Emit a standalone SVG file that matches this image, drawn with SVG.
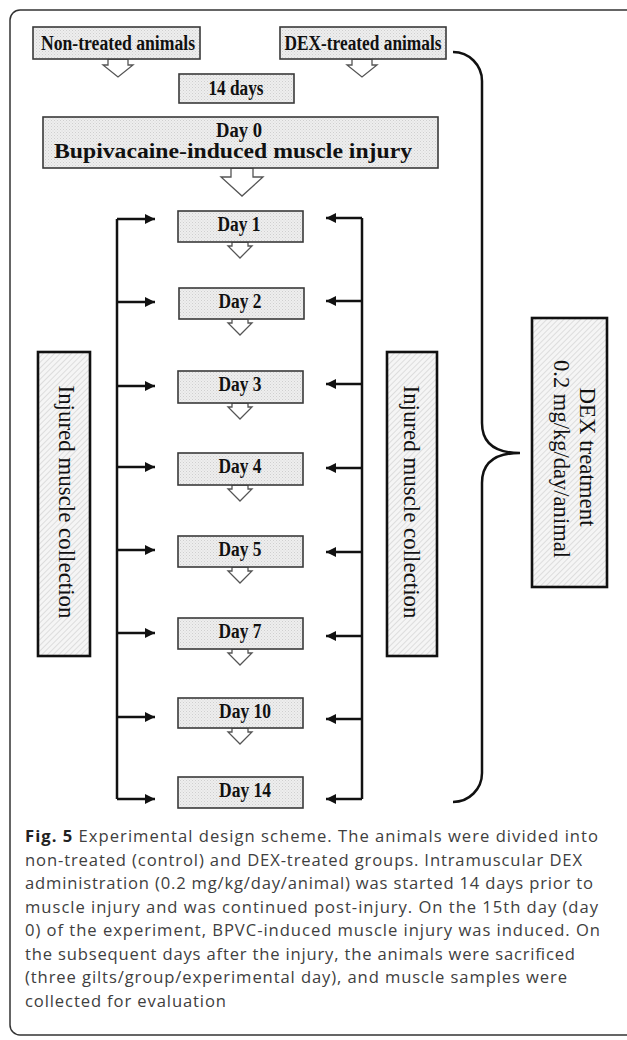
<svg xmlns="http://www.w3.org/2000/svg" width="627" height="1040" viewBox="0 0 627 1040">
<defs>
<style>
.box{fill:url(#dots);stroke:#3a3a3a;stroke-width:1.6}
.vbox{fill:url(#hatch);stroke:#111;stroke-width:2.6}
.lbl{font-family:"Liberation Serif","Times New Roman",serif;font-weight:bold;font-size:20px;fill:#111;text-anchor:middle}
.vl{font-family:"Liberation Serif","Times New Roman",serif;font-size:23px;fill:#111;text-anchor:middle}
.harrow{fill:#fff;stroke:#555;stroke-width:1.3;stroke-linejoin:miter}
.ln{fill:none;stroke:#111;stroke-width:2.5}
.cap{font-family:"Open Sans","Noto Sans",sans-serif;font-size:16.6px;fill:#404040}
</style>
<pattern id="dots" width="3" height="3" patternUnits="userSpaceOnUse">
<rect width="3" height="3" fill="#eeeeee"/>
<rect width="1" height="1" fill="#cfcfcf"/>
<rect x="1.5" y="1.5" width="1" height="1" fill="#d9d9d9"/>
</pattern>
<pattern id="hatch" width="4" height="4" patternUnits="userSpaceOnUse" patternTransform="rotate(45)">
<rect width="4" height="4" fill="#f5f5f5"/>
<line x1="0" y1="0" x2="0" y2="4" stroke="#cdcdcd" stroke-width="1.2"/>
</pattern>
<marker id="ah" markerUnits="userSpaceOnUse" markerWidth="10" markerHeight="10" refX="10" refY="5" orient="auto">
<path d="M0,0 L10,5 L0,10 z" fill="#111"/>
</marker>
</defs>
<rect width="627" height="1040" fill="#fff"/>
<rect x="10" y="10" width="628" height="1025" rx="10" fill="none" stroke="#333" stroke-width="1.5"/>

<g id="connectors">
<path class="ln" d="M117,219 V799"/>
<path class="ln" d="M117,219 H155" marker-end="url(#ah)"/>
<path class="ln" d="M117,302 H155" marker-end="url(#ah)"/>
<path class="ln" d="M117,386 H155" marker-end="url(#ah)"/>
<path class="ln" d="M117,467 H155" marker-end="url(#ah)"/>
<path class="ln" d="M117,550 H155" marker-end="url(#ah)"/>
<path class="ln" d="M117,633 H155" marker-end="url(#ah)"/>
<path class="ln" d="M117,717 H155" marker-end="url(#ah)"/>
<path class="ln" d="M117,799 H155" marker-end="url(#ah)"/>
<path class="ln" d="M362,218 V799"/>
<path class="ln" d="M362,218 H326" marker-end="url(#ah)"/>
<path class="ln" d="M362,301 H326" marker-end="url(#ah)"/>
<path class="ln" d="M362,384 H326" marker-end="url(#ah)"/>
<path class="ln" d="M362,468 H326" marker-end="url(#ah)"/>
<path class="ln" d="M362,552 H326" marker-end="url(#ah)"/>
<path class="ln" d="M362,636 H326" marker-end="url(#ah)"/>
<path class="ln" d="M362,719 H326" marker-end="url(#ah)"/>
<path class="ln" d="M362,799 H326" marker-end="url(#ah)"/>
<path class="ln" d="M453,52 A29,29 0 0 1 482,81 V423 C482,443 494,453 520,453 C494,453 482,463 482,483 V773 A29,29 0 0 1 453,802"/>
<polygon class="harrow" points="108,59 128,59 128,65 133,65 118,77 103,65 108,65"/>
<polygon class="harrow" points="352,59 372,59 372,65 377,65 362,77 347,65 352,65"/>
<polygon class="harrow" points="231,168 253,168 253,177 263,177 242,196 221,177 231,177"/>
<polygon class="harrow" points="232,242 248,242 248,246 252,246 240,258 228,246 232,246"/>
<polygon class="harrow" points="232,319 248,319 248,323 252,323 240,335 228,323 232,323"/>
<polygon class="harrow" points="232,403 248,403 248,407 252,407 240,419 228,407 232,407"/>
<polygon class="harrow" points="232,485 248,485 248,489 252,489 240,501 228,489 232,489"/>
<polygon class="harrow" points="232,567 248,567 248,571 252,571 240,583 228,571 232,571"/>
<polygon class="harrow" points="232,649 248,649 248,653 252,653 240,665 228,653 232,653"/>
<polygon class="harrow" points="232,728 248,728 248,732 252,732 240,744 228,732 232,732"/>
</g>

<g id="non-treated"><rect class="box" x="33" y="27" width="167" height="32"/><text class="lbl" x="118" y="50" font-size="21" textLength="154" lengthAdjust="spacingAndGlyphs">Non-treated animals</text></g>
<g id="dex-treated"><rect class="box" x="280" y="27" width="166" height="32"/><text class="lbl" x="363" y="50" font-size="21" textLength="157" lengthAdjust="spacingAndGlyphs">DEX-treated animals</text></g>
<g id="days14"><rect class="box" x="179" y="74" width="115" height="29"/><text class="lbl" x="236" y="95" font-size="21" textLength="55" lengthAdjust="spacingAndGlyphs">14 days</text></g>
<g id="day0"><rect class="box" x="43" y="117" width="395" height="51"/><text class="lbl" x="239" y="137" font-size="21" textLength="46" lengthAdjust="spacingAndGlyphs">Day 0</text><text class="lbl" x="233" y="158" font-size="21" textLength="358" lengthAdjust="spacingAndGlyphs">Bupivacaine-induced muscle injury</text></g>

<g id="day1"><rect class="box" x="178" y="211" width="125" height="31"/><text class="lbl" x="239" y="231" textLength="43" lengthAdjust="spacingAndGlyphs">Day 1</text></g>
<g id="day2"><rect class="box" x="179" y="288" width="125" height="31"/><text class="lbl" x="240" y="308" textLength="43" lengthAdjust="spacingAndGlyphs">Day 2</text></g>
<g id="day3"><rect class="box" x="178" y="371" width="125" height="32"/><text class="lbl" x="240" y="391" textLength="43" lengthAdjust="spacingAndGlyphs">Day 3</text></g>
<g id="day4"><rect class="box" x="178" y="453" width="125" height="32"/><text class="lbl" x="240" y="473" textLength="43" lengthAdjust="spacingAndGlyphs">Day 4</text></g>
<g id="day5"><rect class="box" x="178" y="536" width="125" height="31"/><text class="lbl" x="240" y="556" textLength="43" lengthAdjust="spacingAndGlyphs">Day 5</text></g>
<g id="day7"><rect class="box" x="178" y="618" width="125" height="31"/><text class="lbl" x="240" y="638" textLength="43" lengthAdjust="spacingAndGlyphs">Day 7</text></g>
<g id="day10"><rect class="box" x="178" y="698" width="125" height="30"/><text class="lbl" x="245" y="718" textLength="52" lengthAdjust="spacingAndGlyphs">Day 10</text></g>
<g id="day14"><rect class="box" x="178" y="777" width="125" height="31"/><text class="lbl" x="245" y="797" textLength="52" lengthAdjust="spacingAndGlyphs">Day 14</text></g>

<g id="collection-left"><rect class="vbox" x="38" y="352" width="52" height="304"/><text class="vl" transform="translate(59,502) rotate(90)" textLength="233" lengthAdjust="spacingAndGlyphs">Injured muscle collection</text></g>
<g id="collection-right"><rect class="vbox" x="387" y="352" width="50" height="304"/><text class="vl" transform="translate(404,502) rotate(90)" textLength="233" lengthAdjust="spacingAndGlyphs">Injured muscle collection</text></g>
<g id="dex-treatment"><rect class="vbox" x="532" y="318" width="75" height="269"/><text class="vl" transform="translate(580,457) rotate(90)" font-size="22" textLength="139" lengthAdjust="spacingAndGlyphs">DEX treatment</text><text class="vl" transform="translate(554,459) rotate(90)" font-size="22" textLength="198" lengthAdjust="spacingAndGlyphs">0.2 mg/kg/day/animal</text></g>

<g id="caption">
<text class="cap" x="25" y="842" textLength="573"><tspan font-weight="bold" fill="#222">Fig. 5</tspan> Experimental design scheme. The animals were divided into</text>
<text class="cap" x="25" y="865.5" textLength="557">non-treated (control) and DEX-treated groups. Intramuscular DEX</text>
<text class="cap" x="25" y="889" textLength="568">administration (0.2 mg/kg/day/animal) was started 14 days prior to</text>
<text class="cap" x="25" y="912.5" textLength="573">muscle injury and was continued post-injury. On the 15th day (day</text>
<text class="cap" x="25" y="936" textLength="575">0) of the experiment, BPVC-induced muscle injury was induced. On</text>
<text class="cap" x="25" y="959.5" textLength="550">the subsequent days after the injury, the animals were sacrificed</text>
<text class="cap" x="25" y="983" textLength="542">(three gilts/group/experimental day), and muscle samples were</text>
<text class="cap" x="25" y="1006.5" textLength="201">collected for evaluation</text>
</g>
</svg>
